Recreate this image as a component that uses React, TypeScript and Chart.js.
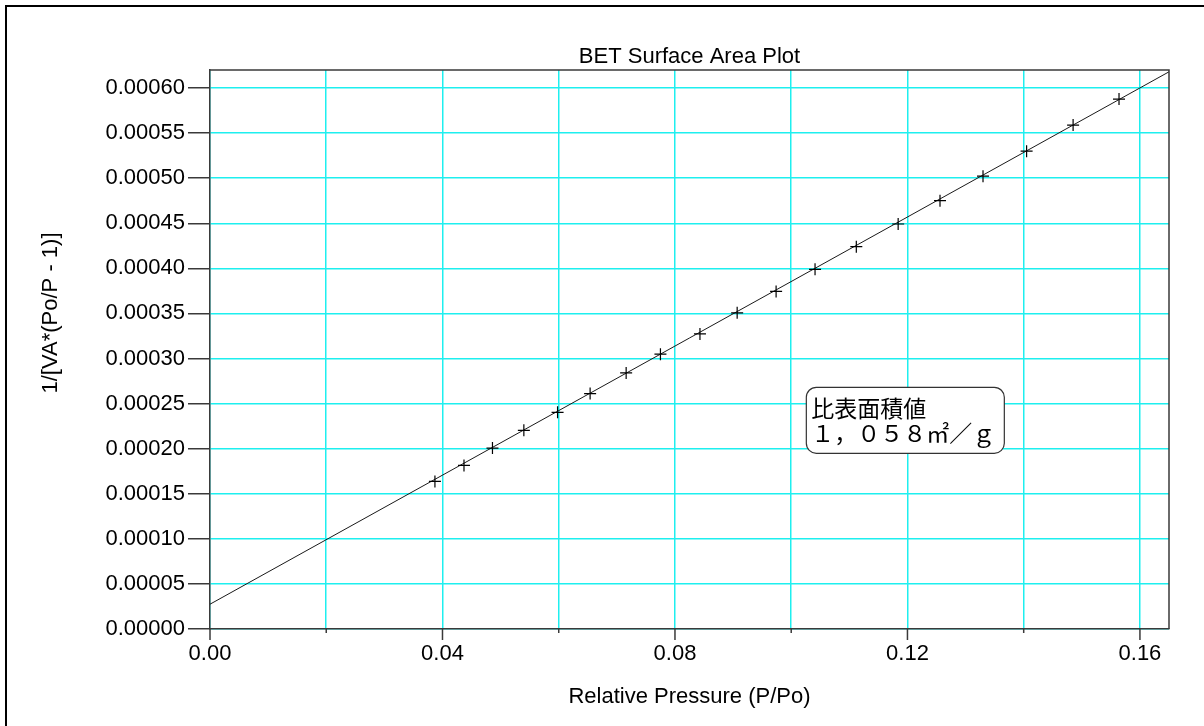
import React, { useEffect, useRef } from "react";
import { Chart, registerables } from "chart.js";

Chart.register(...registerables);

// ---- data ----
const relativePressure = [
  0.0387, 0.0437, 0.0486, 0.054, 0.0598, 0.0654, 0.0716, 0.0775, 0.0843, 0.0907,
  0.0974, 0.1041, 0.1112, 0.1184, 0.1256, 0.133, 0.1405, 0.1485, 0.1564,
];
const betTransform = [
  0.0001637, 0.0001814, 0.0002007, 0.0002203, 0.0002403, 0.0002611, 0.000284,
  0.0003048, 0.0003273, 0.0003507, 0.0003744, 0.0003989, 0.000424, 0.0004492,
  0.0004751, 0.0005022, 0.00053, 0.0005589, 0.0005878,
];
const fitLineX = [0, 0.165];
const fitLineY = [0.0000275, 0.000618];

const xRange = [0, 0.165];
const yRange = [0, 0.00062];
const xTickStep = 0.02;
const yTickStep = 0.00005;

const chartTitle = "BET Surface Area Plot";
const xAxisTitle = "Relative Pressure (P/Po)";
const yAxisTitle = "1/[VA*(Po/P - 1)]";
const noteLines = ["比表面積値", "１，０５８㎡／ｇ"];
const noteAnchor = [0.1026, 0.000268]; // top-left of the note box in data units

// ---- styles ----
const FONT = '"Liberation Sans", Arial, Helvetica, sans-serif';
const AXIS_COLOR = "#3a3a3a";
const GRID_COLOR = "#1EEFEF";

function roundedRect(ctx: CanvasRenderingContext2D, x: number, y: number, w: number, h: number, r: number) {
  ctx.beginPath();
  ctx.moveTo(x + r, y);
  ctx.lineTo(x + w - r, y);
  ctx.arcTo(x + w, y, x + w, y + r, r);
  ctx.lineTo(x + w, y + h - r);
  ctx.arcTo(x + w, y + h, x + w - r, y + h, r);
  ctx.lineTo(x + r, y + h);
  ctx.arcTo(x, y + h, x, y + h - r, r);
  ctx.lineTo(x, y + r);
  ctx.arcTo(x, y, x + r, y, r);
  ctx.closePath();
}

const decorPlugin = {
  id: "decor",
  beforeDraw(chart: any) {
    const ctx = chart.ctx as CanvasRenderingContext2D;
    ctx.save();
    ctx.fillStyle = "#ffffff";
    ctx.fillRect(0, 0, chart.width, chart.height);
    ctx.strokeStyle = "#000000";
    ctx.lineWidth = 2;
    ctx.beginPath();
    ctx.moveTo(6, chart.height + 5);
    ctx.lineTo(6, 6);
    ctx.lineTo(chart.width + 5, 6);
    ctx.stroke();
    ctx.restore();
  },
  afterDraw(chart: any) {
    const ctx = chart.ctx as CanvasRenderingContext2D;
    const a = chart.chartArea;
    const xs = chart.scales.x;
    const ys = chart.scales.y;
    ctx.save();
    // top and right frame of plot area
    ctx.strokeStyle = AXIS_COLOR;
    ctx.lineWidth = 1.5;
    ctx.beginPath();
    ctx.moveTo(a.left, a.top);
    ctx.lineTo(a.right, a.top);
    ctx.lineTo(a.right, a.bottom);
    ctx.stroke();
    // x tick marks (long for labelled, short for others)
    xs.ticks.forEach((t: any) => {
      const px = xs.getPixelForValue(t.value);
      const major = Math.round(t.value / xTickStep) % 2 === 0;
      ctx.beginPath();
      ctx.moveTo(px, a.bottom);
      ctx.lineTo(px, a.bottom + (major ? 11 : 4));
      ctx.stroke();
    });
    // titles
    ctx.fillStyle = "#000000";
    ctx.font = `22px ${FONT}`;
    ctx.textAlign = "center";
    ctx.textBaseline = "middle";
    const cx = (a.left + a.right) / 2;
    ctx.fillText(chartTitle, cx, a.top - 13);
    ctx.fillText(xAxisTitle, cx, a.bottom + 68);
    ctx.save();
    ctx.translate(51, 313);
    ctx.rotate(-Math.PI / 2);
    ctx.fillText(yAxisTitle, 0, 0);
    ctx.restore();
    // note box
    const bx = xs.getPixelForValue(noteAnchor[0]);
    const by = ys.getPixelForValue(noteAnchor[1]);
    roundedRect(ctx, bx, by, 198, 66, 10);
    ctx.fillStyle = "#ffffff";
    ctx.fill();
    ctx.strokeStyle = "#333333";
    ctx.lineWidth = 1.2;
    ctx.stroke();
    ctx.fillStyle = "#000000";
    ctx.font = '23px "Noto Sans CJK JP", sans-serif';
    ctx.textAlign = "left";
    ctx.textBaseline = "middle";
    ctx.fillText(noteLines[0], bx + 5, by + 21);
    ctx.fillText(noteLines[1], bx + 5, by + 46);
    ctx.restore();
  },
};

export default function App() {
  const canvasRef = useRef<HTMLCanvasElement | null>(null);

  useEffect(() => {
    const canvas = canvasRef.current;
    if (!canvas) return;
    const chart = new Chart(canvas, {
      type: "scatter",
      data: {
        datasets: [
          {
            type: "line",
            data: fitLineX.map((v, i) => ({ x: v, y: fitLineY[i] })),
            borderColor: "#1a1a1a",
            borderWidth: 1,
            pointRadius: 0,
            fill: false,
            tension: 0,
            order: 2,
          } as any,
          {
            type: "scatter",
            data: relativePressure.map((v, i) => ({ x: v, y: betTransform[i] })),
            pointStyle: "cross",
            pointRadius: 6,
            borderColor: "#000000",
            backgroundColor: "#000000",
            borderWidth: 1.2,
            order: 1,
          } as any,
        ],
      },
      options: {
        animation: false,
        responsive: false,
        devicePixelRatio: 1,
        events: [],
        layout: { padding: { top: 70, right: 35, left: 0, bottom: 0 } },
        plugins: {
          legend: { display: false },
          title: { display: false },
          tooltip: { enabled: false },
        },
        scales: {
          x: {
            type: "linear",
            min: xRange[0],
            max: xRange[1],
            afterFit: (s: any) => {
              s.height = 97;
            },
            ticks: {
              stepSize: xTickStep,
              includeBounds: false,
              autoSkip: false,
              maxRotation: 0,
              padding: 12,
              color: "#000000",
              font: { family: FONT, size: 22 },
              callback: (v: any) =>
                Math.round(Number(v) / xTickStep) % 2 === 0 ? Number(v).toFixed(2) : "",
            },
            grid: { color: GRID_COLOR, lineWidth: 1.5, drawTicks: false },
            border: { color: AXIS_COLOR, width: 1.5 },
          },
          y: {
            type: "linear",
            min: yRange[0],
            max: yRange[1],
            afterFit: (s: any) => {
              s.width = 210;
            },
            ticks: {
              stepSize: yTickStep,
              includeBounds: false,
              autoSkip: false,
              padding: 3,
              color: "#000000",
              font: { family: FONT, size: 22 },
              callback: (v: any) => Number(v).toFixed(5),
            },
            grid: {
              color: GRID_COLOR,
              lineWidth: 1.5,
              tickLength: 22,
              tickColor: AXIS_COLOR,
              tickWidth: 1.5,
            },
            border: { color: AXIS_COLOR, width: 1.5 },
          },
        },
      } as any,
      plugins: [decorPlugin],
    });
    return () => chart.destroy();
  }, []);

  return (
    <div
      style={{
        position: "fixed",
        left: 0,
        top: 0,
        width: 1204,
        height: 726,
        background: "#ffffff",
        overflow: "hidden",
      }}
    >
      <canvas ref={canvasRef} width={1204} height={726} style={{ display: "block", width: 1204, height: 726 }} />
    </div>
  );
}
